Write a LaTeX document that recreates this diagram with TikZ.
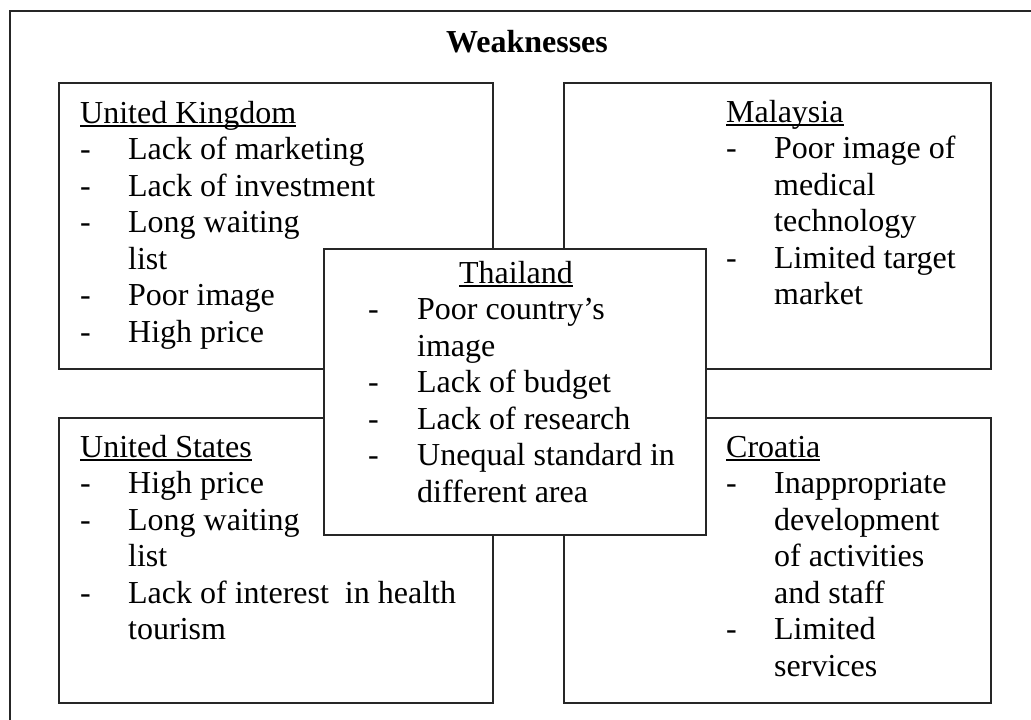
\documentclass[tikz,border=0pt]{standalone}
\usepackage{fontspec}
\setmainfont{Liberation Serif}
\usepackage{array}
\newcommand\ulin[1]{\setbox0\hbox{#1}\rlap{\rule[-3.8pt]{\wd0}{1.4pt}}\box0}
\begin{document}
\begin{tikzpicture}[x=1pt,y=-1pt,
  box/.style={draw=black!85,line width=1.6pt,fill=white,anchor=north west,inner sep=0pt},
  txt/.style={anchor=base west,inner sep=0pt,font=\fontsize{32pt}{36.5pt}\selectfont},
]
\useasboundingbox (0,0) rectangle (1031,720);
\begin{scope}
  \clip (0,0) rectangle (1031,720);
  \draw[line width=1.5pt,black!85] (10,11) rectangle (1060,760);
\end{scope}
% title
\node[txt,anchor=base,font=\fontsize{32pt}{36.5pt}\selectfont\bfseries] (title) at (527,52) {Weaknesses};
% country boxes
\node[box,minimum width=434pt,minimum height=286pt] (ukbox) at (58,82) {};
\node[box,minimum width=427pt,minimum height=286pt] (mybox) at (563,82) {};
\node[box,minimum width=434pt,minimum height=285pt] (usbox) at (58,417) {};
\node[box,minimum width=427pt,minimum height=285pt] (hrbox) at (563,417) {};
\node[box,minimum width=382pt,minimum height=286pt] (thbox) at (323,248) {};
% texts
\node[txt] (uktxt) at (80,123) {\begin{tabular}[t]{@{}p{48pt}@{}l@{}}
\multicolumn{2}{@{}l@{}}{\ulin{United Kingdom}}\\
- & Lack of marketing\\
- & Lack of investment\\
- & Long waiting\\
  & list\\
- & Poor image\\
- & High price
\end{tabular}};
\node[txt] (mytxt) at (726,122) {\begin{tabular}[t]{@{}p{48pt}@{}l@{}}
\multicolumn{2}{@{}l@{}}{\ulin{Malaysia}}\\
- & Poor image of\\
  & medical\\
  & technology\\
- & Limited target\\
  & market
\end{tabular}};
\node[txt] (ustxt) at (80,457) {\begin{tabular}[t]{@{}p{48pt}@{}l@{}}
\multicolumn{2}{@{}l@{}}{\ulin{United States}}\\
- & High price\\
- & Long waiting\\
  & list\\
- & Lack of interest \ in health\\
  & tourism
\end{tabular}};
\node[txt] (hrtxt) at (726,457) {\begin{tabular}[t]{@{}p{48pt}@{}l@{}}
\multicolumn{2}{@{}l@{}}{\ulin{Croatia}}\\
- & Inappropriate\\
  & development\\
  & of activities\\
  & and staff\\
- & Limited\\
  & services
\end{tabular}};
\node[txt,anchor=base] (thhead) at (516,283) {\ulin{Thailand}};
\node[txt] (thtxt) at (368,319.5) {\begin{tabular}[t]{@{}p{49pt}@{}l@{}}
- & Poor country’s\\
  & image\\
- & Lack of budget\\
- & Lack of research\\
- & Unequal standard in\\
  & different area
\end{tabular}};
\end{tikzpicture}
\end{document}
